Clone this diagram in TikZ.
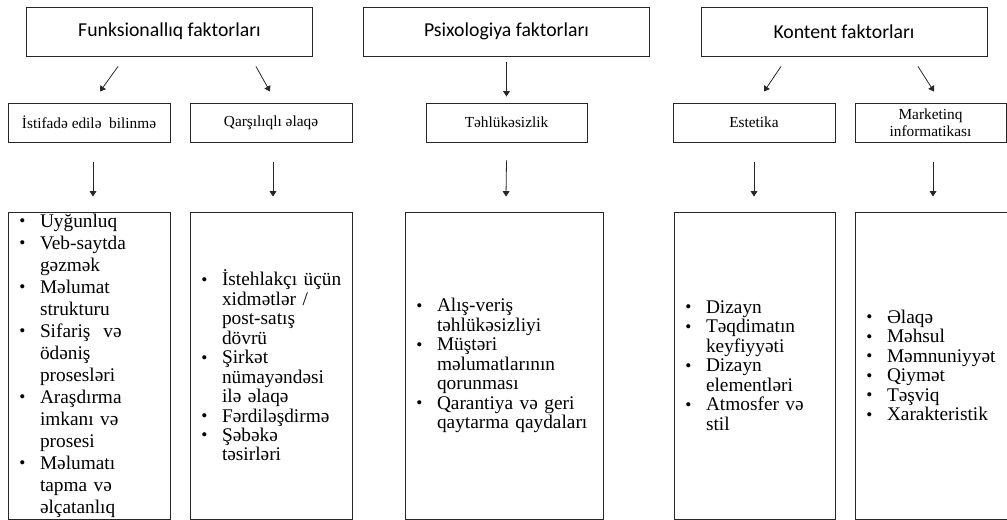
\documentclass[tikz,border=0pt]{standalone}
\usepackage{fontspec}
\setmainfont{Liberation Serif}
\newfontfamily\calibfont{Carlito}
\usepackage{tikz}
\usetikzlibrary{arrows.meta,positioning}
\newcommand{\bl}{\makebox[16.5pt][l]{\hspace{1pt}\raisebox{0.4pt}{\fontsize{13}{13}\selectfont\textbullet}}}
\newcommand{\cont}{\hspace*{16.5pt}}

\begin{document}
\begin{tikzpicture}[x=0.75pt,y=-0.75pt,
  topbox/.style={draw=black!85,line width=0.7pt,minimum width=214.5pt,minimum height=36.75pt,inner sep=0pt,font=\calibfont\fontsize{14.8}{17}\selectfont},
  subbox/.style={draw=black!85,line width=0.7pt,minimum height=29.25pt,inner sep=0pt,align=center,font=\fontsize{11.5}{12.5}\selectfont},
  listbox/.style={draw=black!85,line width=0.7pt,minimum height=230.25pt,inner xsep=7.5pt,inner ysep=0pt,align=left,font=\fontsize{14.5}{14.6}\selectfont},
  arr/.style={black!85,line width=0.6pt,-{Triangle[length=4pt,width=5pt]}}]
  \clip (0,0) rectangle (1007,520);
  \node[topbox] (fun) at (169.5,31.5) {Funksionallıq faktorları};
  \node[topbox] (psi) at (506.5,31.5) {Psixologiya faktorları};
  \node[topbox] (kon) at (844,31.5) {Kontent faktorları};
  \node[subbox,minimum width=121.5pt] (ist) at (89,122.5) {İstifadə edilə\ \ bilinmə};
  \node[subbox,minimum width=121.5pt] (qar) at (271,122.5) {Qarşılıqlı əlaqə};
  \node[subbox,minimum width=120.75pt] (teh) at (506.5,122.5) {Təhlükəsizlik};
  \node[subbox,minimum width=121.5pt] (est) at (754,122.5) {Estetika};
  \node[subbox,minimum width=113.25pt] (mar) at (930.5,122.5) {Marketinq\\ informatikası};
  \node[listbox,text width=106.5pt,font=\fontsize{14.5}{16.5}\selectfont] (l1) at (89,365.5) {\bl Uyğunluq\\ \bl Veb-saytda\\ \cont gəzmək\\ \bl Məlumat\\ \cont strukturu\\ \bl Sifariş\ \ və\\ \cont ödəniş\\ \cont prosesləri\\ \bl Araşdırma\\ \cont imkanı və\\ \cont prosesi\\ \bl Məlumatı\\ \cont tapma və\\ \cont əlçatanlıq};
  \node[listbox,text width=106.5pt] (l2) at (271,365.5) {\bl İstehlakçı üçün\\ \cont xidmətlər /\\ \cont post-satış\\ \cont dövrü\\ \bl Şirkət\\ \cont nümayəndəsi\\ \cont ilə əlaqə\\ \bl Fərdiləşdirmə\\ \bl Şəbəkə\\ \cont təsirləri};
  \node[listbox,text width=133.5pt] (l3) at (504,365.5) {\bl Alış-veriş\\ \cont təhlükəsizliyi\\ \bl Müştəri\\ \cont məlumatlarının\\ \cont qorunması\\ \bl Qarantiya və geri\\ \cont qaytarma qaydaları};
  \node[listbox,text width=105.75pt] (l4) at (754.5,365.5) {\bl Dizayn\\ \bl Təqdimatın\\ \cont keyfiyyəti\\ \bl Dizayn\\ \cont elementləri\\ \bl Atmosfer və\\ \cont stil};
  \node[listbox,text width=102.75pt] (l5) at (933.5,365.5) {\bl Əlaqə\\ \bl Məhsul\\ \bl Məmnuniyyət\\ \bl Qiymət\\ \bl Təşviq\\ \bl Xarakteristik};
  \draw[arr] ([shift={(-51.5,10)}]fun.south) -- ([shift={(11,-11)}]ist.north);
  \draw[arr] ([shift={(86.5,10)}]fun.south) -- ([shift={(-1,-11)}]qar.north);
  \draw[arr] ([shift={(0,6)}]psi.south) -- ([shift={(0,-6)}]teh.north);
  \draw[arr] ([shift={(-63,10)}]kon.south) -- ([shift={(10,-11)}]est.north);
  \draw[arr] ([shift={(74,10)}]kon.south) -- ([shift={(3.5,-11)}]mar.north);
  \draw[arr] ([shift={(4,20)}]ist.south) -- ([shift={(4,-15)}]l1.north);
  \draw[arr] ([shift={(2,20)}]qar.south) -- ([shift={(2,-15)}]l2.north);
  \draw[arr] ([shift={(0,18)}]teh.south) -- ([shift={(2,-15)}]l3.north);
  \draw[arr] ([shift={(0,20)}]est.south) -- ([shift={(-0.5,-15)}]l4.north);
  \draw[arr] ([shift={(2.5,20)}]mar.south) -- ([shift={(-0.5,-15)}]l5.north);
\end{tikzpicture}
\end{document}
